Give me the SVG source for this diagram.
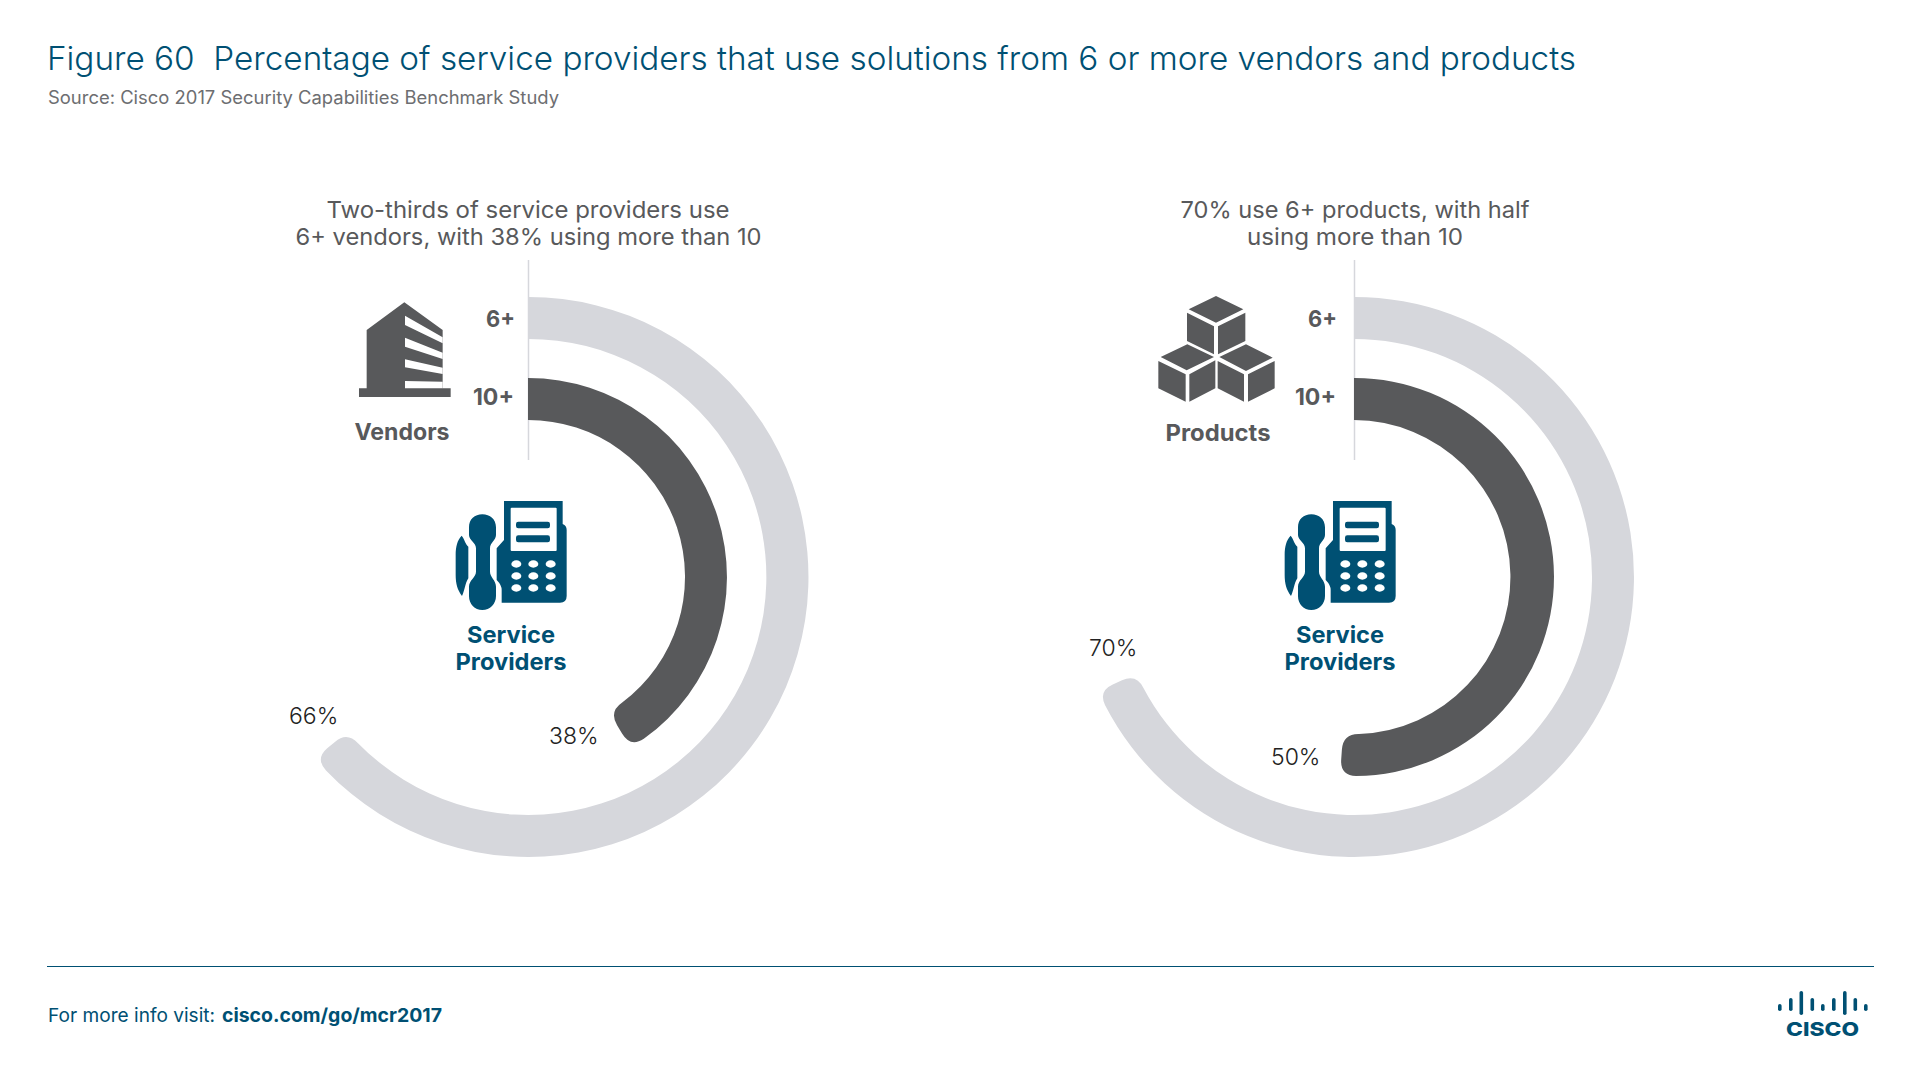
<svg xmlns="http://www.w3.org/2000/svg" xmlns:xlink="http://www.w3.org/1999/xlink" width="1920" height="1080" viewBox="0 0 1920 1080">
<style>
text{font-family:Inter,"Liberation Sans",sans-serif}
.title{font-size:33px;fill:#005073;font-weight:300;white-space:pre}
.sub{font-size:18px;fill:#6d6e71}
.head{font-size:23px;fill:#58595b;text-anchor:middle}
.b{font-size:23px;font-weight:700;fill:#58595b}
.sp{font-size:23px;font-weight:700;fill:#005073;text-anchor:middle}
.pct{font-size:23px;fill:#222;font-weight:300}
.foot{font-size:19px;fill:#005073}
.light{fill:#d6d7dc}.dark{fill:#58595b}.blue{fill:#005073}.wh{fill:#fff}
.tick{stroke:#d6d7dc;stroke-width:1.5;fill:none}
</style>
<defs>
<g id="fax">
<path class="blue" d="M192 33H368V102Q380 106 380 120V318Q380 338 360 338H185V300Q185 285 170 270V175L192 150Z"/>
<rect class="wh" x="212" y="53" width="138" height="130" rx="3"/>
<rect class="blue" x="228" y="95" width="102" height="20" rx="7"/>
<rect class="blue" x="228" y="136" width="102" height="21" rx="7"/>
<g class="wh"><ellipse cx="229" cy="222" rx="15" ry="11"/><ellipse cx="280" cy="222" rx="15" ry="11"/><ellipse cx="332" cy="222" rx="15" ry="11"/><ellipse cx="229" cy="258" rx="15" ry="11"/><ellipse cx="280" cy="258" rx="15" ry="11"/><ellipse cx="332" cy="258" rx="15" ry="11"/><ellipse cx="229" cy="294" rx="15" ry="11"/><ellipse cx="280" cy="294" rx="15" ry="11"/><ellipse cx="332" cy="294" rx="15" ry="11"/></g>
<path class="blue" d="M127 73C150 73 168 88 168 112V135C168 150 150 158 150 175V245C150 262 168 270 168 290V318C168 342 150 360 127 360C104 360 87 342 87 318V290C87 270 108 262 108 245V175C108 158 87 150 87 135V112C87 88 104 73 127 73Z"/>
<path class="blue" d="M65 137C75 150 75 160 85 170V265C75 280 75 300 66 318C52 300 47 280 47 255V195C47 170 52 150 65 137Z"/>
</g>
</defs>

<g id="header">
<text class="title" x="47" y="70" textLength="1529" lengthAdjust="spacingAndGlyphs">Figure 60  Percentage of service providers that use solutions from 6 or more vendors and products</text>
<text class="sub" x="48" y="104" textLength="511" lengthAdjust="spacingAndGlyphs">Source: Cisco 2017 Security Capabilities Benchmark Study</text>
</g>

<g id="connectors">
<path class="tick" d="M528.5 260V460"/>
<path class="tick" d="M1354.5 260V460"/>
</g>

<g id="vendors-chart">
<text class="head" x="528" y="218" textLength="403" lengthAdjust="spacingAndGlyphs">Two-thirds of service providers use</text>
<text class="head" x="528.5" y="245" textLength="466" lengthAdjust="spacingAndGlyphs">6+ vendors, with 38% using more than 10</text>
<path id="ring-66" class="light" d="M528 297A280 280 0 1 1 326 770.4Q315.1 758.8 327.2 748.3L334.9 741.9Q347 731.6 358 743.2A238 238 0 1 0 528 339Z"/>
<path id="ring-38" class="dark" d="M528 378A199 199 0 0 1 643.8 738.8Q630.5 747.6 622.2 733.8L617.1 725.3Q608.9 711.6 622.2 702.6A157 157 0 0 0 528 420Z"/>
<text class="b" x="515" y="327" text-anchor="end" textLength="29" lengthAdjust="spacingAndGlyphs">6+</text>
<text class="b" x="514" y="405" text-anchor="end">10+</text>
<g id="vendors-icon" transform="translate(340 280) scale(.33333)">
<path class="dark" d="M57 325H80V150L193 67L308 150V325H332V351H57Z"/>
<path class="wh" d="M195 107L308 172V190L195 135ZM195 173L308 218V237L195 200ZM195 238L308 263V282L195 262ZM195 303L308 305V325H195Z"/>
</g>
<text class="b" x="402" y="440" text-anchor="middle" textLength="95" lengthAdjust="spacingAndGlyphs">Vendors</text>
<text class="pct" x="289" y="724">66%</text>
<text class="pct" x="549" y="744">38%</text>
<use id="fax-left" xlink:href="#fax" href="#fax" transform="translate(440 490) scale(.33333)"/>
<text class="sp" x="511" y="643" textLength="88" lengthAdjust="spacingAndGlyphs">Service</text>
<text class="sp" x="511" y="670" textLength="111" lengthAdjust="spacingAndGlyphs">Providers</text>
</g>

<g id="products-chart">
<text class="head" x="1355" y="218" textLength="349" lengthAdjust="spacingAndGlyphs">70% use 6+ products, with half</text>
<text class="head" x="1355" y="245" textLength="216" lengthAdjust="spacingAndGlyphs">using more than 10</text>
<path id="ring-70" class="light" d="M1354 297A280 280 0 1 1 1105.1 705.3Q1098.2 690.9 1112.8 684.4L1122 680.3Q1136.6 673.8 1143.6 688.2A238 238 0 1 0 1354 339Z"/>
<path id="ring-50" class="dark" d="M1354 378A199 199 0 0 1 1356.1 776Q1340.1 775.5 1341.2 759.6L1341.9 749.6Q1343 733.6 1359 733.9A157 157 0 0 0 1354 420Z"/>
<text class="b" x="1337" y="327" text-anchor="end" textLength="29" lengthAdjust="spacingAndGlyphs">6+</text>
<text class="b" x="1336" y="405" text-anchor="end">10+</text>
<g id="products-icon" transform="translate(1140 285) scale(.33333)">
<path class="dark" d="M228 33L310 73L228 113L146 73ZM141 83L222 124V208L141 168ZM234 124L316 83V168L234 208ZM142 178L222 216L140 256L62 216ZM55 228L137 268V350L55 310ZM148 268L226 226V310L148 350ZM318 178L398 218L318 258L238 216ZM233 228L312 268V350L233 310ZM324 268L404 228V310L324 350Z"/>
</g>
<text class="b" x="1218" y="441" text-anchor="middle" textLength="105" lengthAdjust="spacingAndGlyphs">Products</text>
<text class="pct" x="1089" y="656">70%</text>
<text class="pct" x="1271" y="765">50%</text>
<use id="fax-right" xlink:href="#fax" href="#fax" transform="translate(1269 490) scale(.33333)"/>
<text class="sp" x="1340" y="643" textLength="88" lengthAdjust="spacingAndGlyphs">Service</text>
<text class="sp" x="1340" y="670" textLength="111" lengthAdjust="spacingAndGlyphs">Providers</text>
</g>

<g id="footer">
<rect x="47" y="966" width="1827" height="1" fill="#005073"/>
<text class="foot" x="48" y="1022" textLength="167" lengthAdjust="spacingAndGlyphs">For more info visit:</text>
<text class="foot" x="222" y="1022" font-weight="700" textLength="220" lengthAdjust="spacingAndGlyphs">cisco.com/go/mcr2017</text>
<g id="logo" fill="#005073">
<rect x="1778" y="1004" width="3.6" height="7" rx="1.8"/><rect x="1789" y="998" width="3.6" height="13" rx="1.8"/><rect x="1799.5" y="991" width="3.6" height="24" rx="1.8"/><rect x="1810.5" y="998" width="3.6" height="13" rx="1.8"/><rect x="1821" y="1004" width="3.6" height="7" rx="1.8"/><rect x="1832" y="998" width="3.6" height="13" rx="1.8"/><rect x="1843" y="991" width="3.6" height="24" rx="1.8"/><rect x="1853.5" y="998" width="3.6" height="13" rx="1.8"/><rect x="1864" y="1004" width="3.6" height="7" rx="1.8"/>
<text x="1786" y="1036" font-size="19" font-weight="800" textLength="73" lengthAdjust="spacingAndGlyphs" style="fill:#005073">CISCO</text>
</g>
</g>
</svg>
